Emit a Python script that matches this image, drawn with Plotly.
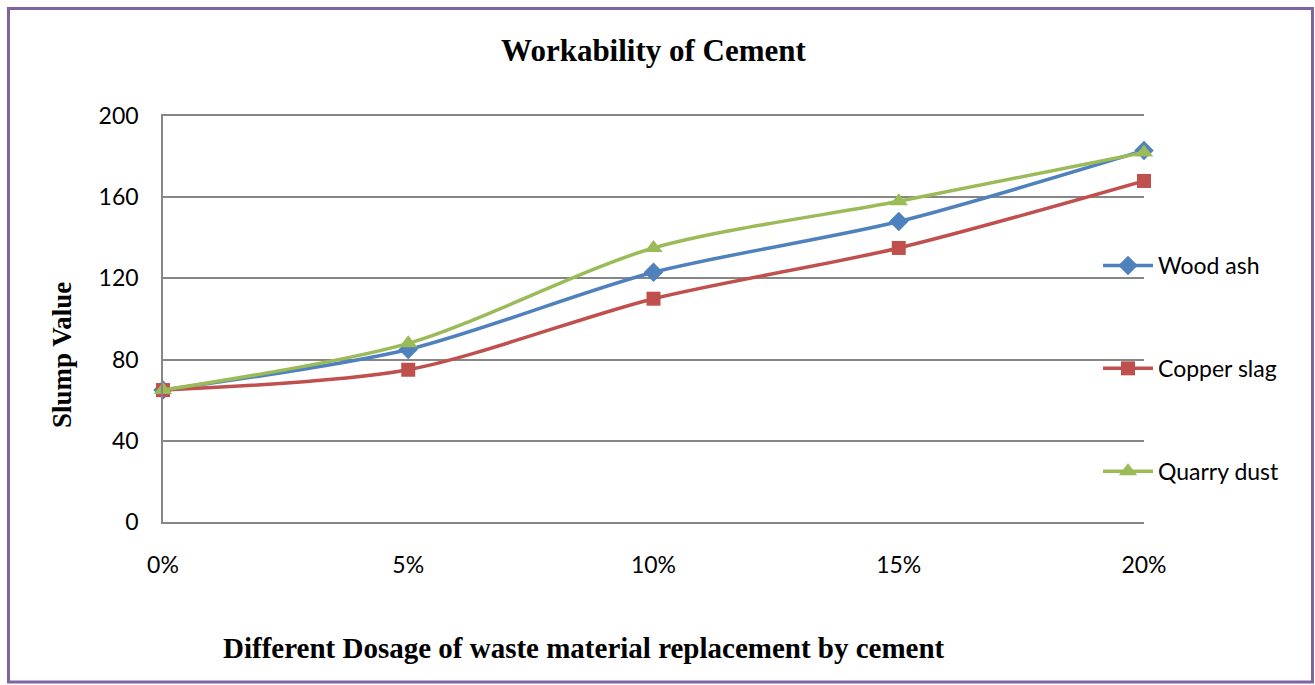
import plotly.graph_objects as go

categories = ["0%", "5%", "10%", "15%", "20%"]
wood_ash = [65, 85, 123, 148, 183]
copper_slag = [65, 75, 110, 135, 168]
quarry_dust = [65, 88, 135, 158, 182]
y_ticks = [0, 40, 80, 120, 160, 200]

W, H = 1315, 685
L, R, T, B = 163, 171, 116, 163
pw, ph = W - L - R, H - T - B

fig = go.Figure()
series = [
    ("Wood ash", wood_ash, "#4F81BD", "diamond", 15),
    ("Copper slag", copper_slag, "#C0504D", "square", 14),
    ("Quarry dust", quarry_dust, "#9BBB59", "triangle-up", 16),
]
for i, (name, vals, col, sym, sz) in enumerate(series):
    fig.add_trace(go.Scatter(
        x=list(range(len(categories))), y=vals, name=name,
        mode="lines+markers", cliponaxis=False,
        line=dict(color=col, width=3.5, shape="spline", smoothing=0.8),
        marker=dict(symbol=sym, size=sz, color=col),
        legendgroup=f"g{i}",
    ))

fig.update_layout(
    width=W, height=H,
    margin=dict(l=L, r=R, t=T, b=B),
    paper_bgcolor="white", plot_bgcolor="white",
    font=dict(family="Lato, Open Sans, sans-serif", size=23, color="black"),
    title=dict(text="<b>Workability of Cement</b>", x=0.5, xref="paper",
               y=1 - 50 / H, yanchor="middle",
               font=dict(family="Liberation Serif, Times New Roman, serif", size=31, color="black")),
    showlegend=True,
    legend=dict(x=(1098 - L) / pw, xanchor="left", y=1 - (265 - 21 - T) / ph, yanchor="top",
                traceorder="grouped", tracegroupgap=70,
                font=dict(family="Lato, Open Sans, sans-serif", size=23),
                bgcolor="rgba(0,0,0,0)", itemwidth=50),
    xaxis=dict(range=[0, 4], tickmode="array", tickvals=list(range(len(categories))),
               ticktext=categories, showgrid=False, showline=True, mirror=True,
               linecolor="#868686", linewidth=1.5, ticks="", ticklabelstandoff=22,
               zeroline=False, tickfont=dict(size=23)),
    yaxis=dict(range=[0, 200], tickvals=y_ticks, showgrid=True, gridcolor="#868686",
               gridwidth=1.5, showline=True, linecolor="#868686", linewidth=1.5,
               ticks="", ticklabelstandoff=18, zeroline=False, tickfont=dict(size=23)),
)

fig.add_annotation(text="<b>Different Dosage of waste material replacement by cement</b>",
                   xref="paper", yref="paper", x=(584 - L) / pw, y=-(648 - T - ph) / ph,
                   showarrow=False, xanchor="center", yanchor="middle",
                   font=dict(family="Liberation Serif, Times New Roman, serif", size=29, color="black"))
fig.add_annotation(text="<b>Slump Value</b>", textangle=-90,
                   xref="paper", yref="paper", x=(62 - L) / pw, y=1 - (355 - T) / ph,
                   showarrow=False, xanchor="center", yanchor="middle",
                   font=dict(family="Liberation Serif, Times New Roman, serif", size=27, color="black"))

fig.add_shape(type="rect", xref="paper", yref="paper",
              x0=(8.5 - L) / pw, x1=(1312.5 - L) / pw,
              y0=1 - (682 - T) / ph, y1=1 - (8.5 - T) / ph,
              line=dict(color="#8064A2", width=3), fillcolor="rgba(0,0,0,0)", layer="below")

fig.write_html("out.html", config={"displayModeBar": False},
               post_script="document.body.style.margin='0';document.body.style.overflow='hidden';")
